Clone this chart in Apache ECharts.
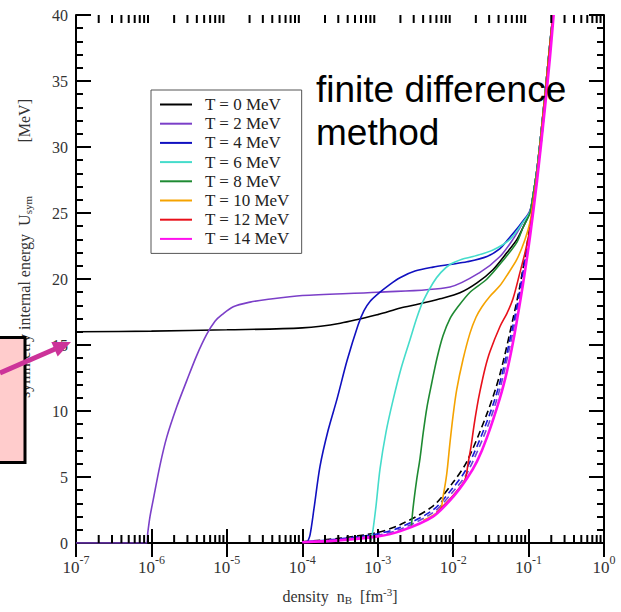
<!DOCTYPE html>
<html><head><meta charset="utf-8">
<script src="https://cdn.jsdelivr.net/npm/echarts@6/dist/echarts.min.js"></script>
<style>html,body{margin:0;padding:0;background:#fff}#c{width:621px;height:612px}</style>
</head><body><div id="c"></div>
<script>
// ---- data (density n_B [fm^-3], U_sym [MeV]) ----
const legendNames = ['T = 0 MeV','T = 2 MeV','T = 4 MeV','T = 6 MeV','T = 8 MeV','T = 10 MeV','T = 12 MeV','T = 14 MeV'];
const xTickExponents = [-7,-6,-5,-4,-3,-2,-1,0];

const T0 = [[1e-7,16.0],[1e-6,16.05],[1e-5,16.15],[1e-4,16.3],[3.2e-4,16.65],[1e-3,17.3],[2e-3,17.8],[3.5e-3,18.1],[6.7e-3,18.5],[0.0123,18.95],[0.0207,19.7],[0.0337,20.7],[0.0517,22.0],[0.0702,23.0],[0.0843,23.9],[0.1044,25.1],[0.1145,26.3],[0.1293,28.3],[0.1417,30.3],[0.1651,34.0],[0.1923,37.9],[0.2107,40]];
const T2 = [[1e-7,0],[8.65e-7,0],[8.93e-7,0.75],[9.57e-7,2.0],[1.059e-6,3.3],[1.3e-6,5.9],[1.594e-6,8.0],[2.16e-6,10.3],[2.94e-6,12.3],[3.98e-6,14.2],[5.4e-6,15.8],[6.96e-6,16.8],[8.62e-6,17.3],[1.217e-5,17.9],[2.03e-5,18.25],[3.37e-5,18.45],[1e-4,18.75],[1e-3,19.0],[9.08e-3,19.4],[0.0227,20.5],[0.0418,21.7],[0.062,23.0],[0.0843,24.3],[0.1044,25.2],[0.1145,26.3],[0.1293,28.3],[0.1417,30.3],[0.1651,34.0],[0.1923,37.9],[0.2107,40]];
const T4 = [[1.155e-4,0],[1.265e-4,0.6],[1.429e-4,2.6],[1.717e-4,5.8],[2.192e-4,8.5],[2.885e-4,10.9],[3.915e-4,13.8],[5.478e-4,16.5],[6.577e-4,17.6],[7.9e-4,18.3],[1.072e-3,19.0],[1.455e-3,19.6],[1.974e-3,20.1],[3.12e-3,20.6],[5.41e-3,20.9],[9.08e-3,21.1],[0.01527,21.3],[0.0281,21.7],[0.0418,22.3],[0.0517,22.9],[0.0702,23.8],[0.0843,24.4],[0.1044,25.1],[0.1145,26.3],[0.1293,28.3],[0.1417,30.3],[0.1651,34.0],[0.1923,37.9],[0.2107,40]];
const T6 = [[8.15e-4,0.2],[8.66e-4,1.0],[9.49e-4,2.8],[1.072e-3,5.6],[1.288e-3,8.4],[1.594e-3,10.8],[2.035e-3,13.2],[2.679e-3,15.4],[3.317e-3,17.1],[3.985e-3,18.3],[5.41e-3,19.7],[6.9e-3,20.5],[9.08e-3,21.1],[0.0131,21.5],[0.01833,21.7],[0.03375,22.2],[0.0567,23.0],[0.0843,24.3],[0.1044,25.1],[0.1145,26.3],[0.1293,28.3],[0.1417,30.3],[0.1651,34.0],[0.1923,37.9],[0.2107,40]];
const T8 = [[2.804e-3,1.3],[2.935e-3,2.6],[3.287e-3,4.8],[3.635e-3,6.4],[4.021e-3,8.4],[4.5e-3,10.3],[5.194e-3,12.1],[6.106e-3,14.0],[7.336e-3,15.7],[9.08e-3,17.0],[0.01125,17.8],[0.01673,19.0],[0.0281,20.0],[0.0458,21.4],[0.0702,22.8],[0.0843,23.9],[0.1044,25.0],[0.1145,26.3],[0.1293,28.3],[0.1417,30.3],[0.1651,34.0],[0.1923,37.9],[0.2107,40]];
const T10 = [[4e-3,1.7],[6.694e-3,2.5],[7.336e-3,3.5],[8.21e-3,5.2],[9.08e-3,7.6],[9.95e-3,9.6],[0.01114,11.6],[0.01351,13.9],[0.01673,15.9],[0.02009,17.1],[0.02413,17.9],[0.0308,18.7],[0.0418,19.5],[0.05336,20.4],[0.0702,21.5],[0.0897,23.0],[0.1044,24.3],[0.1145,25.8],[0.1293,28.0],[0.1417,30.1],[0.1651,33.9],[0.1923,37.8],[0.2107,40]];
const T12 = [[6e-3,2.3],[0.01,3.6],[0.01436,4.8],[0.01573,6.0],[0.01725,7.3],[0.0189,8.9],[0.0207,10.3],[0.0227,11.5],[0.02643,13.2],[0.0308,14.5],[0.0418,16.4],[0.0517,17.4],[0.06215,18.5],[0.0769,20.5],[0.0897,22.0],[0.1044,23.8],[0.1145,25.4],[0.1293,27.8],[0.1417,29.9],[0.1651,33.7],[0.1923,37.7],[0.2107,40]];
const T14 = [[1e-4,0.06],[3e-4,0.2],[1e-3,0.5],[2e-3,0.9],[5.4e-3,2.0],[0.01,3.5],[0.0153,4.9],[0.0208,6.2],[0.0281,8.0],[0.0418,11.0],[0.0517,13.0],[0.0622,15.2],[0.0769,18.2],[0.0897,20.6],[0.1044,23.2],[0.1293,27.4],[0.1651,33.0],[0.1923,36.8],[0.215,40]];
const dashBlack = [[1e-4,0.1],[3e-4,0.35],[1e-3,0.8],[2e-3,1.4],[5.4e-3,2.8],[0.01,4.6],[0.0153,6.2],[0.0281,9.8],[0.0418,12.8],[0.0622,17.0],[0.0769,19.5],[0.104,24.0],[0.14,29.5],[0.175,35.0],[0.21,40]];
const dashBlue = [[1e-4,0.08],[3e-4,0.3],[1e-3,0.7],[2e-3,1.2],[5.4e-3,2.5],[0.01,4.2],[0.0153,5.7],[0.0281,9.2],[0.0418,12.2],[0.0622,16.5],[0.0769,19.2],[0.104,23.8],[0.14,29.3],[0.175,34.8],[0.21,40]];
const dashPurple = [[1e-4,0.07],[3e-4,0.25],[1e-3,0.6],[2e-3,1.05],[5.4e-3,2.3],[0.01,3.9],[0.0153,5.3],[0.0281,8.7],[0.0418,11.7],[0.0622,16.0],[0.0769,18.8],[0.104,23.5],[0.14,29.2],[0.175,34.7],[0.21,40]];

const colors = ['#000000','#7b3fc8','#1010c0','#45dccb','#1e8a32','#f5a300','#e8101a','#ff10ee'];
const solidData = [T0,T2,T4,T6,T8,T10,T12,T14];

// minor log ticks (axis decoration)
const minorTicks = [];
for (let e = -7; e < 0; e++) for (let k = 2; k <= 9; k++) minorTicks.push([k * Math.pow(10, e), 0]);

const serif = 'Liberation Serif';
const chart = echarts.init(document.getElementById('c'), null, {renderer: 'svg'});

const series = [];
[[dashBlack,'#000000',0],[dashPurple,'#6a4ad0',3],[dashBlue,'#1a1ad8',6]].forEach((d, i) => {
  series.push({type:'line', name:'dash'+i, data:d[0], showSymbol:false, smooth:0.3, silent:true, color:d[1],
    lineStyle:{color:d[1], width:1.6, type:[7,4], dashOffset:d[2]}, z:2});
});
solidData.forEach((d, i) => {
  series.push({type:'line', name:legendNames[i], data:d, showSymbol:false, smooth:0.3, silent:true,
    color:colors[i], lineStyle:{color:colors[i], width: i === 7 ? 2.6 : 1.6}, z: 3 + i});
});
series.push({type:'custom', silent:true, clip:false, data:minorTicks, encode:{x:0, y:1}, z:20,
  renderItem: (params, api) => {
    const v = api.value(0);
    const p = api.coord([v, 0]);
    const q = api.coord([v, 40]);
    return {type:'group', children:[
      {type:'line', shape:{x1:p[0], y1:p[1], x2:p[0], y2:p[1]-8}, style:{stroke:'#000', lineWidth:2}},
      {type:'line', shape:{x1:q[0], y1:q[1], x2:q[0], y2:q[1]+8}, style:{stroke:'#000', lineWidth:2}}
    ]};
  }});

const xLabelRich = {
  b: {fontFamily:serif, fontSize:17, color:'#333', lineHeight:26},
  s: {fontFamily:serif, fontSize:12, color:'#333', lineHeight:6, verticalAlign:'top'}
};
const tickStyle = {color:'#000', width:2};
const axisCommon = {axisLine:{show:true, lineStyle:{color:'#000', width:2}}, splitLine:{show:false}};

chart.setOption({
  animation:false,
  grid:{left:76, right:17, top:15, bottom:69, containLabel:false},
  xAxis:[
    Object.assign({type:'log', logBase:10, min:1e-7, max:1, position:'bottom',
      axisTick:{show:true, inside:true, length:14, lineStyle:tickStyle},
      axisLabel:{margin:11, formatter:v => '{b|10}{s|' + Math.round(Math.log10(v)) + '}', rich:xLabelRich}}, axisCommon),
    Object.assign({type:'log', logBase:10, min:1e-7, max:1, position:'top', axisLabel:{show:false},
      axisTick:{show:true, inside:true, length:14, lineStyle:tickStyle}}, axisCommon)
  ],
  yAxis:[
    Object.assign({type:'value', min:0, max:40, interval:5, position:'left',
      axisTick:{show:true, inside:true, length:15, lineStyle:tickStyle},
      axisLabel:{margin:8, fontFamily:serif, fontSize:16, color:'#333'},
      minorTick:{show:true, splitNumber:5, length:7, lineStyle:tickStyle}}, axisCommon),
    Object.assign({type:'value', min:0, max:40, interval:5, position:'right', axisLabel:{show:false},
      axisTick:{show:true, inside:true, length:15, lineStyle:tickStyle},
      minorTick:{show:true, splitNumber:5, length:7, lineStyle:tickStyle}}, axisCommon)
  ],
  legend:{data:legendNames, orient:'vertical', left:151, top:90, padding:[6,12,6,9],
    itemWidth:32, itemHeight:2, itemGap:2.2, icon:'rect', selectedMode:false,
    borderColor:'#555', borderWidth:1, backgroundColor:'#fff',
    textStyle:{fontFamily:serif, fontSize:17, color:'#222', lineHeight:16, padding:[0,0,0,8]}},
  series: series,
  graphic:[
    {type:'text', x:316, y:68, z:100, style:{text:'finite difference\nmethod', fill:'#000',
      font:'37px "Liberation Sans", Arial, sans-serif', lineHeight:43, align:'left', verticalAlign:'top'}},
    {type:'text', x:24, y:196, rotation:Math.PI/2, z:100, style:{text:'symmetry internal energy  U{sub|sym}',
      fill:'#333', font:'16px "Liberation Serif", serif', align:'right', verticalAlign:'middle',
      rich:{sub:{fontFamily:serif, fontSize:11, fill:'#333', padding:[7,0,0,0]}}}},
    {type:'text', x:24, y:99, rotation:Math.PI/2, z:100, style:{text:'[MeV]',
      fill:'#333', font:'16px "Liberation Serif", serif', align:'right', verticalAlign:'middle'}},
    {type:'text', x:340, y:596, z:100, style:{text:'density  n{sub|B}  [fm{sup|-3}]',
      fill:'#333', font:'16px "Liberation Serif", serif', align:'center', verticalAlign:'middle',
      rich:{sub:{fontFamily:serif, fontSize:11, fill:'#333', padding:[8,0,0,0]},
            sup:{fontFamily:serif, fontSize:11, fill:'#333', padding:[0,0,9,0]}}}},
    {type:'rect', z:110, shape:{x:-5, y:337.5, width:30, height:125}, style:{fill:'#ffcccc', stroke:'#000', lineWidth:3}},
    {type:'line', z:120, shape:{x1:0, y1:373, x2:55, y2:349}, style:{stroke:'#cc3399', lineWidth:5}},
    {type:'polygon', z:120, shape:{points:[[71,342],[57.7,356.5],[51.3,341.9]]}, style:{fill:'#cc3399'}}
  ]
});
</script>
</body></html>
